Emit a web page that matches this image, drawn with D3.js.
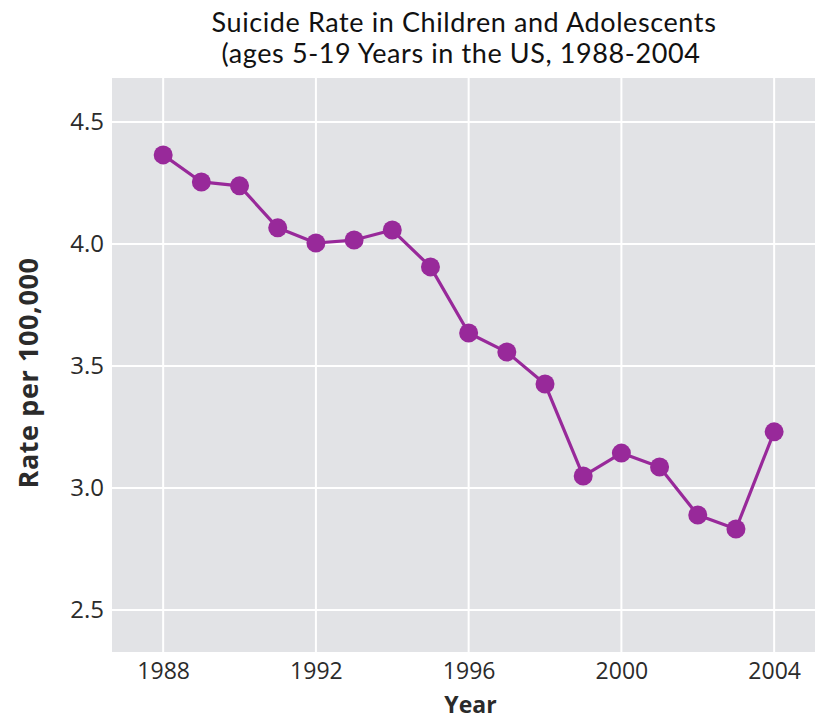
<!DOCTYPE html>
<html>
<head>
<meta charset="utf-8">
<script src="https://cdn.jsdelivr.net/npm/d3@7"></script>
<style>
  html, body { margin: 0; padding: 0; background: #ffffff; }
  svg { display: block; }
</style>
</head>
<body>
<div id="chart"></div>
<script>
// Suicide rate per 100,000 among US children and adolescents (ages 5-19)
const years = [1988, 1989, 1990, 1991, 1992, 1993, 1994, 1995, 1996,
               1997, 1998, 1999, 2000, 2001, 2002, 2003, 2004];
const rates = [4.365, 4.254, 4.238, 4.066, 4.004, 4.016, 4.057, 3.906, 3.635,
               3.557, 3.426, 3.049, 3.143, 3.086, 2.889, 2.832, 3.230];
const xTicks = [1988, 1992, 1996, 2000, 2004];
const yTicks = [2.5, 3.0, 3.5, 4.0, 4.5];
const titleLines = ["Suicide Rate in Children and Adolescents",
                    "(ages 5-19 Years in the US, 1988-2004"];
const xTitle = "Year";
const yTitle = "Rate per 100,000";

const W = 823, H = 723;
const panel = { left: 112, right: 815, top: 78, bottom: 652 };

const svg = d3.select("#chart").append("svg")
  .attr("width", W).attr("height", H);

const x = d3.scaleLinear().domain([1986.66, 2005.07]).range([panel.left, panel.right]);
const y = d3.scaleLinear().domain([2.328, 4.68]).range([panel.bottom, panel.top]);

// panel background
svg.append("rect")
  .attr("x", panel.left).attr("y", panel.top)
  .attr("width", panel.right - panel.left)
  .attr("height", panel.bottom - panel.top)
  .attr("fill", "#e2e3e6");

// gridlines
svg.append("g").selectAll("line").data(yTicks).join("line")
  .attr("x1", panel.left).attr("x2", panel.right)
  .attr("y1", d => y(d)).attr("y2", d => y(d))
  .attr("stroke", "#ffffff").attr("stroke-width", 2);
svg.append("g").selectAll("line").data(xTicks).join("line")
  .attr("y1", panel.top).attr("y2", panel.bottom)
  .attr("x1", d => x(d)).attr("x2", d => x(d))
  .attr("stroke", "#ffffff").attr("stroke-width", 2);

const tickFont = "'Open Sans', 'Noto Sans', sans-serif";

// axes (ticks hidden, labels only)
const xAxis = svg.append("g")
  .attr("transform", `translate(0,${panel.bottom})`)
  .call(d3.axisBottom(x).tickValues(xTicks).tickFormat(d3.format("d")).tickSize(0).tickPadding(11));
xAxis.select(".domain").remove();
xAxis.selectAll("text")
  .attr("font-family", tickFont).attr("font-size", 23).attr("fill", "#2b2b2b");

const yAxis = svg.append("g")
  .attr("transform", `translate(${panel.left},0)`)
  .call(d3.axisLeft(y).tickValues(yTicks).tickFormat(d3.format(".1f")).tickSize(0).tickPadding(8));
yAxis.select(".domain").remove();
yAxis.selectAll("text")
  .attr("font-family", tickFont).attr("font-size", 24).attr("fill", "#2b2b2b");

// line and points
const data = years.map((yr, i) => ({ year: yr, rate: rates[i] }));
svg.append("path")
  .datum(data)
  .attr("fill", "none")
  .attr("stroke", "#98299a")
  .attr("stroke-width", 3.2)
  .attr("stroke-linejoin", "round")
  .attr("d", d3.line().x(d => x(d.year)).y(d => y(d.rate)));

svg.append("g").selectAll("circle").data(data).join("circle")
  .attr("cx", d => x(d.year)).attr("cy", d => y(d.rate))
  .attr("r", 9.5)
  .attr("fill", "#98299a");

// titles
svg.append("text")
  .attr("x", (panel.left + panel.right) / 2 + 7).attr("y", 713)
  .attr("text-anchor", "middle")
  .attr("font-family", tickFont).attr("font-weight", "bold")
  .attr("font-size", 23).attr("fill", "#2b2b2b")
  .text(xTitle);

svg.append("text")
  .attr("transform", `translate(38,373) rotate(-90)`)
  .attr("text-anchor", "middle")
  .attr("font-family", tickFont).attr("font-weight", "bold")
  .attr("font-size", 27).attr("letter-spacing", 0.6).attr("fill", "#2b2b2b")
  .text(yTitle);

svg.append("g").selectAll("text").data(titleLines).join("text")
  .attr("x", (d, i) => i === 0 ? 464 : 461).attr("y", (d, i) => 32 + i * 31)
  .attr("text-anchor", "middle")
  .attr("font-family", "'Comic Sans MS', 'Lato', 'Noto Sans', sans-serif")
  .attr("font-size", 27).attr("letter-spacing", 0.6).attr("fill", "#111111")
  .text(d => d);
</script>
</body>
</html>
